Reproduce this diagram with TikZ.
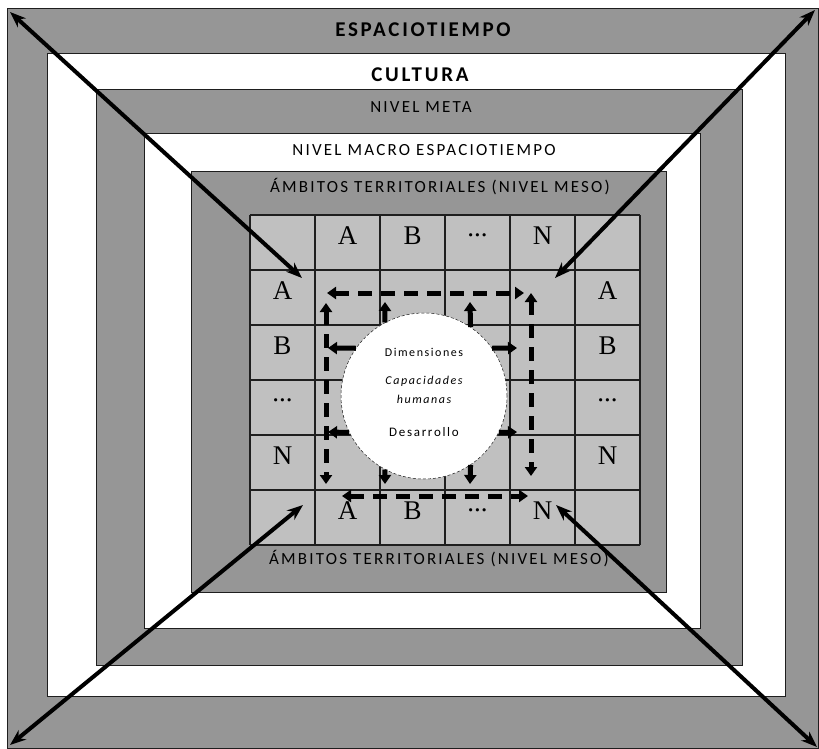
\documentclass[tikz,border=0pt]{standalone}
\usepackage{fontspec}
\setmainfont{Carlito}[LetterSpace=13]
\newfontfamily\cellfont{Liberation Serif}
\newcommand\gdots{...}
\usetikzlibrary{arrows.meta}
\definecolor{band}    {HTML}{969696}
\definecolor{cellgrey}{HTML}{C0C0C0}
\definecolor{edge}    {HTML}{1E1E1E}

\begin{document}
\begin{tikzpicture}[x=1pt, y=-1pt,
    bandline/.style={draw=edge, line width=0.9pt},
    gridline/.style={edge, line width=1.6pt},
    bandtxt/.style={inner sep=0pt, font=\fontsize{17}{19}\selectfont},
    bandhead/.style={inner sep=0pt, font=\fontsize{21}{24}\selectfont\bfseries},
    celltxt/.style={inner sep=0pt, yshift=7pt, font=\cellfont\fontsize{27}{29}\selectfont},
    coretxt/.style={inner sep=0pt, font=\fontsize{12}{14}\selectfont},
    bigflow/.style={{Stealth[length=16pt, width=12pt]}-{Stealth[length=16pt, width=12pt]},
                    line width=4pt},
    dflow/.style={{Triangle[length=9pt, width=12pt]}-{Triangle[length=9pt, width=12pt]},
                  line width=5pt, dash pattern=on 14pt off 9pt},
    sflow/.style={-{Triangle[length=9pt, width=12pt]}, line width=5pt}
  ]
    % nested frames, outside in
    \draw[bandline, fill=band]  (7,8)     rectangle (818,748);
    \draw[bandline, fill=white] (47,53)   rectangle (785,696);
    \draw[bandline, fill=band]  (96,89)   rectangle (742,665);
    \draw[bandline, fill=white] (144,133) rectangle (700,628);
    \draw[bandline, fill=band]  (191,171) rectangle (666,592);

    \node[bandhead] (esp)  at (423,30)  {ESPACIOTIEMPO};
    \node[bandhead] (cult) at (420,75)  {CULTURA};
    \node[bandtxt]  (meta) at (421,107) {NIVEL META};
    \node[bandtxt]  (macro) at (424,150) {NIVEL MACRO ESPACIOTIEMPO};
    \node[bandtxt]  (mesoA) at (440,187) {ÁMBITOS TERRITORIALES (NIVEL MESO)};
    \node[bandtxt]  (mesoB) at (439,559) {ÁMBITOS TERRITORIALES (NIVEL MESO)};

    % the 6x6 table
    \fill[cellgrey] (250,215) rectangle (640,545);
    \foreach \c in {0,...,6}
      \draw[gridline] ({250+65*\c},215) -- ({250+65*\c},545);
    \foreach \r in {0,...,6}
      \draw[gridline] (250,{215+55*\r}) -- (640,{215+55*\r});

    \foreach \i/\l in {1/A,2/B,3/\gdots,4/N} {
      \node[celltxt] (top\i)   at ({282.5+65*\i},242.5) {\l};
      \node[celltxt] (bot\i)   at ({282.5+65*\i},517.5) {\l};
      \node[celltxt] (left\i)  at (282.5,{242.5+55*\i}) {\l};
      \node[celltxt] (right\i) at (607.5,{242.5+55*\i}) {\l};
    }

    % end points of the flows
    \coordinate (hTl) at (327,293);  \coordinate (hTr) at (524,293);
    \coordinate (hBl) at (342,496);  \coordinate (hBr) at (528,496);
    \coordinate (vLt) at (326,303);  \coordinate (vLb) at (326,484);
    \coordinate (vRt) at (531,293);  \coordinate (vRb) at (531,476);
    \coordinate (u1) at (385,302);   \coordinate (u2) at (470,302);
    \coordinate (l1) at (328,348);   \coordinate (r1) at (517,348);
    \coordinate (l2) at (328,432);   \coordinate (r2) at (517,432);
    \coordinate (d1) at (385,484);   \coordinate (d2) at (470,484);

    \draw[dflow] (hTl) -- (hTr);
    \draw[dflow] (hBl) -- (hBr);
    \draw[dflow] (vLt) -- (vLb);
    \draw[dflow] (vRt) -- (vRb);

    \node[circle, draw=edge, densely dashed, line width=0.5pt, fill=white,
          minimum size=166pt, inner sep=0pt] (core) at (424,396) {};
    \node[coretxt] (dim)  at (424,352) {Dimensiones};
    \node[coretxt, font=\fontsize{12}{14}\selectfont\itshape] (cap) at (424,381) {Capacidades};
    \node[coretxt, font=\fontsize{12}{14}\selectfont\itshape] (hum) at (424,399) {humanas};
    \node[coretxt, font=\fontsize{13}{15}\selectfont] (des) at (424,432) {Desarrollo};

    \draw[sflow] (core.118) -- (u1);
    \draw[sflow] (core.56)  -- (u2);
    \draw[sflow] (core.145) -- (l1);
    \draw[sflow] (core.35)  -- (r1);
    \draw[sflow] (core.206) -- (l2);
    \draw[sflow] (core.334) -- (r2);
    \draw[sflow] (core.242) -- (d1);
    \draw[sflow] (core.304) -- (d2);

    % corner arrows
    \coordinate (cTL) at (10,12);   \coordinate (iTL) at (302,278);
    \coordinate (cTR) at (815,10);  \coordinate (iTR) at (555,278);
    \coordinate (cBL) at (10,745);  \coordinate (iBL) at (303,505);
    \coordinate (cBR) at (817,747); \coordinate (iBR) at (556,505);
    \draw[bigflow] (cTL) -- (iTL);
    \draw[bigflow] (cTR) -- (iTR);
    \draw[bigflow] (cBL) -- (iBL);
    \draw[bigflow] (cBR) -- (iBR);

    \useasboundingbox (0,0) rectangle (819,749);
  \end{tikzpicture}
\end{document}
